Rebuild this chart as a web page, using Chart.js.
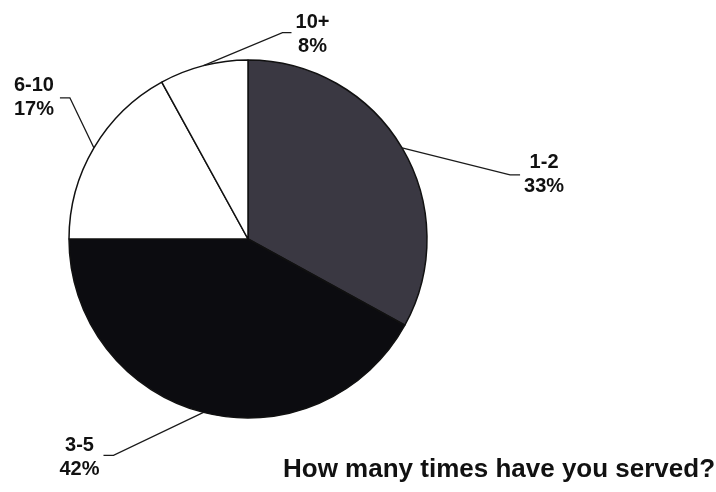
<!DOCTYPE html>
<html>
<head>
<meta charset="utf-8">
<script src="https://cdn.jsdelivr.net/npm/chart.js@4.4.1/dist/chart.umd.min.js"></script>
<style>
  html, body { margin: 0; padding: 0; background: #ffffff; }
  #wrap { width: 716px; height: 492px; }
</style>
</head>
<body>
<div id="wrap"><canvas id="c" width="716" height="492"></canvas></div>
<script>
// ---- data ----
const categories = ['1-2', '3-5', '6-10', '10+'];
const percentages = [33, 42, 17, 8];
const titleText = 'How many times have you served?';

// ---- styles ----
const sliceColors = ['#3a3842', '#0c0c10', '#ffffff', '#ffffff'];
// leader layout: elbow offset from the slice edge, end offset, label centre offset from end
const leaderLayout = [
  { elbow: [108, 27],  end: [118, 27],  label: [24, 0] },
  { elbow: [-90, 43],  end: [-100, 43], label: [-24, 2] },
  { elbow: [-24, -50], end: [-34, -50], label: [-26, 0] },
  { elbow: [79, -33],  end: [88, -33],  label: [21, 1.5] }
];

const labelPlugin = {
  id: 'leaders',
  afterDatasetsDraw(chart) {
    const ctx = chart.ctx;
    const meta = chart.getDatasetMeta(0);
    ctx.save();
    meta.data.forEach((arc, i) => {
      const mid = (arc.startAngle + arc.endAngle) / 2;
      const ex = arc.x + Math.cos(mid) * arc.outerRadius;
      const ey = arc.y + Math.sin(mid) * arc.outerRadius;
      const L = leaderLayout[i];
      const bx = ex + L.elbow[0], by = ey + L.elbow[1];
      const fx = ex + L.end[0], fy = ey + L.end[1];
      ctx.strokeStyle = '#1a1a1a';
      ctx.lineWidth = 1.2;
      ctx.beginPath();
      ctx.moveTo(ex, ey);
      ctx.lineTo(bx, by);
      ctx.lineTo(fx, fy);
      ctx.stroke();
      const lx = fx + L.label[0], ly = fy + L.label[1];
      ctx.fillStyle = '#111111';
      ctx.font = 'bold 20px "Liberation Sans", Arial, sans-serif';
      ctx.textAlign = 'center';
      ctx.textBaseline = 'middle';
      ctx.fillText(categories[i], lx, ly - 12);
      ctx.fillText(percentages[i] + '%', lx, ly + 12);
    });
    ctx.font = 'bold 26px "Liberation Sans", Arial, sans-serif';
    ctx.textAlign = 'left';
    ctx.textBaseline = 'alphabetic';
    ctx.fillStyle = '#111111';
    ctx.fillText(titleText, 283, 477);
    ctx.restore();
  }
};

new Chart(document.getElementById('c'), {
  type: 'pie',
  data: {
    labels: categories,
    datasets: [{
      data: percentages,
      backgroundColor: sliceColors,
      borderColor: '#111111',
      borderWidth: 1.5,
      hoverOffset: 0
    }]
  },
  options: {
    responsive: false,
    animation: false,
    radius: 179,
    layout: { padding: { left: 68, right: 288, top: 59, bottom: 73 } },
    plugins: {
      legend: { display: false },
      tooltip: { enabled: false },
      title: { display: false }
    }
  },
  plugins: [labelPlugin]
});
</script>
</body>
</html>
